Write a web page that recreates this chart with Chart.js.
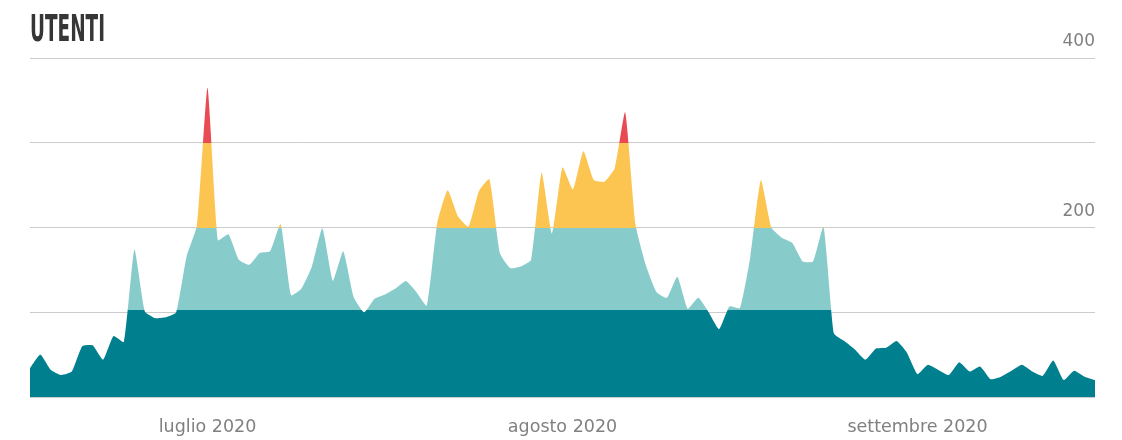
<!DOCTYPE html>
<html><head><meta charset="utf-8">
<script src="https://cdn.jsdelivr.net/npm/chart.js@4.4.1/dist/chart.umd.min.js"></script>
<style>
html,body{margin:0;padding:0;background:#fff;}
#wrap{position:relative;width:1122px;height:440px;overflow:hidden;}
#title{position:absolute;left:30px;top:10px;font-family:"DejaVu Sans Condensed","DejaVu Sans",sans-serif;font-weight:bold;font-size:37px;line-height:1;color:#363636;transform-origin:0 0;white-space:nowrap;}
canvas{position:absolute;left:0;top:0;}
</style></head>
<body>
<div id="wrap"><canvas id="c" width="1122" height="440"></canvas><div id="title">UTENTI</div></div>
<script>
// ---- data ----
const values = [34,50,32,26,30,60,61,44,72,65,
  174,101,93,94,100,166,203,365,185,192,
  162,156,170,172,204,120,128,154,199,137,
  172,118,100,116,121,128,137,124,108,205,
  244,213,201,243,257,170,152,154,162,265,
  193,271,245,290,256,254,270,336,203,155,
  124,117,142,104,117,100,80,107,105,166,
  256,200,188,182,160,160,201,75,66,56,
  44,57,58,66,52,27,38,32,26,41,
  30,36,21,24,31,38,30,25,43,20,
  31,24,20];
const monthLabels = ['luglio 2020', 'agosto 2020', 'settembre 2020'];
const monthStartIndex = [17, 51, 85];
const yLabelValues = [200, 400];
const bandLimits = [103, 200, 300];
const bandColors = ['#00808f', '#88cbcb', '#fcc451', '#e94b52'];

const categories = values.map((_, i) => {
  const k = monthStartIndex.indexOf(i);
  return k >= 0 ? monthLabels[k] : '';
});

function bandFill(context) {
  const chart = context.chart;
  const {ctx, chartArea, scales} = chart;
  if (!chartArea || !scales.y) return bandColors[0];
  const y = scales.y;
  const bottom = y.getPixelForValue(y.min), top = y.getPixelForValue(y.max);
  const g = ctx.createLinearGradient(0, bottom, 0, top);
  let prev = 0;
  bandLimits.forEach((lim, k) => {
    const t = (lim - y.min) / (y.max - y.min);
    g.addColorStop(prev, bandColors[k]);
    g.addColorStop(t, bandColors[k]);
    prev = t;
  });
  g.addColorStop(prev, bandColors[bandColors.length - 1]);
  g.addColorStop(1, bandColors[bandColors.length - 1]);
  return g;
}

const labelFont = {family: '"DejaVu Sans", sans-serif', size: 17.5, weight: 'normal'};

new Chart(document.getElementById('c'), {
  type: 'line',
  data: {
    labels: categories,
    datasets: [{
      data: values,
      fill: 'origin',
      backgroundColor: bandFill,
      borderWidth: 0,
      borderColor: 'rgba(0,0,0,0)',
      pointRadius: 0,
      tension: 0.15
    }]
  },
  options: {
    responsive: false,
    animation: false,
    layout: {padding: {left: 30, right: 27, top: 58, bottom: 0}},
    plugins: {legend: {display: false}, tooltip: {enabled: false}},
    scales: {
      x: {
        type: 'category',
        offset: false,
        grid: {display: false},
        border: {display: false},
        ticks: {autoSkip: false, maxRotation: 0, padding: 12, color: '#808080', font: labelFont,
          callback: (v, i) => categories[i]},
        afterFit: s => { s.height = 43; }
      },
      y: {
        position: 'right',
        min: 0, max: 400,
        grid: {color: '#cccccc', lineWidth: 1, drawTicks: false},
        border: {display: false},
        ticks: {stepSize: 100, mirror: true, padding: 0, labelOffset: -16, color: '#808080',
          font: {family: '"DejaVu Sans", sans-serif', size: 17, weight: 'normal'},
          callback: v => yLabelValues.includes(v) ? String(v) : ''},
        afterFit: s => { s.width = 0; }
      }
    }
  }
});

const t = document.getElementById('title');
const w = t.getBoundingClientRect().width;
t.style.transform = 'scaleX(' + (75 / w) + ')';
</script>
</body></html>
